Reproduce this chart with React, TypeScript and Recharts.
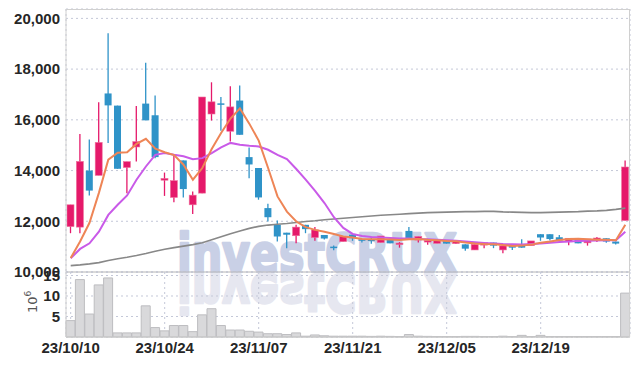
import React from 'react';
import { ComposedChart, Bar, Line, XAxis, YAxis, CartesianGrid, ReferenceLine } from 'recharts';

const dates = [
  '23/10/10', '23/10/11', '23/10/12', '23/10/13', '23/10/16', '23/10/17', '23/10/18', '23/10/19', '23/10/20', '23/10/23',
  '23/10/24', '23/10/25', '23/10/26', '23/10/27', '23/10/30', '23/10/31', '23/11/01', '23/11/02', '23/11/03', '23/11/06',
  '23/11/07', '23/11/08', '23/11/09', '23/11/10', '23/11/13', '23/11/14', '23/11/15', '23/11/16', '23/11/17', '23/11/20',
  '23/11/21', '23/11/22', '23/11/23', '23/11/24', '23/11/27', '23/11/28', '23/11/29', '23/11/30', '23/12/01', '23/12/04',
  '23/12/05', '23/12/06', '23/12/07', '23/12/08', '23/12/11', '23/12/12', '23/12/13', '23/12/14', '23/12/15', '23/12/18',
  '23/12/19', '23/12/20', '23/12/21', '23/12/22', '23/12/26', '23/12/27', '23/12/28', '24/01/02', '24/01/03', '24/01/04',
];

const tickDates = ['23/10/10', '23/10/24', '23/11/07', '23/11/21', '23/12/05', '23/12/19'];
const priceTicks = [10000, 12000, 14000, 16000, 18000, 20000];
const volumeTicks = [5, 10, 15];

const opens = [
  11790, 11770, 14000, 13810, 17040, 16560, 14120, 14930, 16640, 16180,
  13620, 12940, 14400, 12650, 13110, 16230, 16650, 15550, 16760, 14530,
  14100, 12520, 11860, 11550, 11430, 11860, 11360, 11460, 11000, 11200,
  11470, 11290, 11280, 11160, 11290, 11120, 11620, 11260, 11190, 11130,
  11225, 11120, 11090, 10870, 11060, 11160, 10870, 11040, 11040, 11040,
  11490, 11490, 11370, 11190, 11330, 11150, 11250, 11330, 11200, 12030,
];
const highs = [
  12650, 15440, 15220, 16690, 19410, 16560, 14350, 16550, 18250, 16960,
  13920, 14590, 14400, 13170, 16900, 17480, 16900, 17320, 17350, 14910,
  14100, 12690, 12030, 11550, 11860, 11860, 11770, 11460, 11040, 11400,
  11500, 11290, 11370, 11420, 11290, 11180, 11770, 11400, 11240, 11240,
  11225, 11225, 11090, 11090, 11160, 11160, 11030, 11040, 11290, 11225,
  11490, 11490, 11460, 11330, 11330, 11300, 11380, 11330, 11200, 14400,
];
const lows = [
  11530, 11530, 13020, 13810, 15090, 14070, 13110, 14360, 15980, 14490,
  13000, 12750, 12940, 12290, 13110, 15970, 15570, 15150, 15410, 13700,
  12850, 11990, 11200, 10940, 11130, 11530, 11230, 11280, 10860, 11200,
  11230, 11160, 11110, 11160, 11130, 10960, 11290, 11160, 11070, 11130,
  11120, 11100, 10840, 10870, 10940, 10940, 10740, 10870, 10960, 11040,
  11230, 11240, 11240, 11055, 11130, 11040, 11180, 11150, 11080, 12030,
];
const closes = [
  12650, 14360, 13210, 15110, 16570, 14070, 14350, 15140, 15980, 14530,
  13690, 13600, 13270, 13030, 16900, 16710, 16610, 16510, 15410, 14240,
  12940, 12160, 11400, 11470, 11770, 11690, 11660, 11320, 10970, 11400,
  11330, 11240, 11230, 11420, 11130, 11140, 11290, 11400, 11240, 11240,
  11120, 11225, 10920, 11090, 11160, 11040, 11030, 10960, 10960, 11225,
  11360, 11300, 11240, 11330, 11130, 11300, 11340, 11200, 11120, 14140,
];

const ma5 = [
  10550, 11200, 11940, 13120, 14430, 14700, 14720, 15050, 15250, 14860,
  14720, 14610, 14230, 13640, 14100, 14850, 15480, 16050, 16450, 15850,
  15180, 14100, 12980, 12380, 11990, 11770, 11660, 11590, 11500, 11400,
  11360, 11300, 11290, 11290, 11280, 11260, 11290, 11300, 11270, 11250,
  11220, 11210, 11160, 11120, 11100, 11090, 11060, 11030, 11040, 11080,
  11150, 11200, 11260, 11300, 11310, 11290, 11270, 11270, 11250, 11860,
];
const ma20 = [
  10540, 10910, 11130, 11590, 12250, 12650, 13020, 13640, 14160, 14620,
  14690, 14620, 14560, 14450, 14490, 14690, 14910, 15090, 15020, 14980,
  14950, 14820, 14620, 14450, 14060, 13640, 13200, 12720, 12160, 11740,
  11500, 11420, 11380, 11360, 11340, 11320, 11320, 11300, 11290, 11270,
  11250, 11230, 11200, 11170, 11140, 11120, 11100, 11090, 11080, 11100,
  11120, 11150, 11180, 11200, 11220, 11230, 11240, 11250, 11250, 11590,
];
const ma60 = [
  10250, 10280, 10320, 10370, 10450, 10520, 10580, 10650, 10730, 10820,
  10900, 10960, 11020, 11080, 11150, 11270, 11390, 11510, 11620, 11720,
  11800, 11850, 11880, 11910, 11950, 11990, 12020, 12060, 12090, 12120,
  12150, 12180, 12210, 12240, 12260, 12280, 12300, 12320, 12340, 12350,
  12360, 12370, 12380, 12380, 12390, 12390, 12370, 12360, 12350, 12340,
  12340, 12350, 12360, 12370, 12380, 12400, 12410, 12430, 12470, 12520,
];

// volume in millions of shares
const volumes = [
  4.0, 14.0, 5.6, 12.7, 14.4, 1.0, 1.0, 1.0, 7.6, 2.3,
  1.5, 2.8, 2.8, 1.3, 5.4, 6.9, 2.8, 1.7, 1.7, 1.4,
  1.2, 0.8, 0.8, 0.6, 1.0, 0.2, 0.5, 0.3, 0.2, 0.2,
  0.2, 0.2, 0.15, 0.2, 0.15, 0.1, 0.6, 0.2, 0.15, 0.1,
  0.1, 0.1, 0.15, 0.15, 0.1, 0.1, 0.2, 0.1, 0.4, 0.1,
  0.4, 0.1, 0.1, 0.1, 0.1, 0.1, 0.1, 0.1, 0.1, 10.7,
];

const priceData = dates.map((date, i) => ({
  date,
  open: opens[i],
  high: highs[i],
  low: lows[i],
  close: closes[i],
  ma5: ma5[i],
  ma20: ma20[i],
  ma60: ma60[i],
}));
const volumeData = dates.map((date, i) => ({ date, volume: volumes[i] }));

const UP = '#e5196a';
const DOWN = '#2f93c8';
const GRID = '#c4c8d8';
const FONT = '"Liberation Sans Narrow", "Liberation Sans", sans-serif';
const tickStyle = { fill: '#262626', fontSize: 15, fontWeight: 700, fontFamily: FONT };

const W = 639;
const PLOT_LEFT = 66;
const PLOT_RIGHT = 630;

const Candle = (props: any) => {
  const { x, y, width, height, payload } = props;
  const { open, close, high, low } = payload;
  const up = close >= open;
  const color = up ? UP : DOWN;
  const top = Math.min(y, y + height);
  const h = Math.abs(height);
  const ratio = h / Math.max(1, high - low);
  const bodyTop = top + (high - Math.max(open, close)) * ratio;
  const bodyH = Math.max(1.5, Math.abs(open - close) * ratio);
  const cx = x + width / 2;
  return (
    <g>
      <line x1={cx} x2={cx} y1={top} y2={top + h} stroke={color} strokeWidth={1.3} />
      <rect x={x} y={bodyTop} width={width} height={bodyH} fill={color}
        stroke={up ? '#ef6f9c' : 'none'} strokeWidth={up ? 0.6 : 0} />
    </g>
  );
};

const wmStyle = {
  fontFamily: '"DejaVu Sans", sans-serif',
  fontWeight: 700,
  fontSize: 53,
  strokeWidth: 2.5,
  strokeLinejoin: 'round' as const,
};

export default function App() {
  return (
    <div style={{ position: 'absolute', left: 0, top: 0, width: W, height: 366, background: '#fff' }}>
      {/* watermark behind the charts */}
      <svg width={W} height={366} style={{ position: 'absolute', left: 0, top: 0 }}>
        <text x={177} y={272} textLength={280} lengthAdjust="spacingAndGlyphs"
          style={wmStyle} fill="#c9d0e6" stroke="#c9d0e6">
          investCRUX
        </text>
        <text x={177} y={272} textLength={280} lengthAdjust="spacingAndGlyphs"
          transform="translate(0,546) scale(1,-1)"
          style={wmStyle} fill="#e6e7f0" stroke="#e6e7f0">
          investCRUX
        </text>
      </svg>

      <div style={{ position: 'absolute', left: 0, top: 0 }}>
        <ComposedChart width={W} height={290} data={priceData}
          margin={{ top: 9, right: W - PLOT_RIGHT, bottom: 18, left: 0 }}>
          <CartesianGrid stroke={GRID} strokeDasharray="2 3" />
          <XAxis dataKey="date" orientation="top" height={0} ticks={tickDates}
            tick={false} tickLine={false} axisLine={false} interval={0} />
          <YAxis width={PLOT_LEFT} domain={[10000, 20370]} ticks={priceTicks} interval={0}
            allowDataOverflow tickFormatter={(v: number) => v.toLocaleString('en-US')}
            tick={tickStyle} tickSize={0} tickMargin={6} axisLine={{ stroke: '#d0d0d0' }} tickLine={false} />
          <Bar dataKey={(d: any) => [d.low, d.high]} barSize={7} shape={Candle} isAnimationActive={false} />
          <Line type="linear" dataKey="ma60" stroke="#888888" strokeWidth={1.6} dot={false} isAnimationActive={false} />
          <Line type="linear" dataKey="ma20" stroke="#c95ae8" strokeWidth={2} dot={false} isAnimationActive={false} />
          <Line type="linear" dataKey="ma5" stroke="#ee8556" strokeWidth={2} dot={false} isAnimationActive={false} />
          <ReferenceLine y={10000} stroke="#b4b4b4" strokeWidth={1} />
        </ComposedChart>
      </div>

      <div style={{ position: 'absolute', left: 0, top: 262 }}>
        <ComposedChart width={W} height={104} data={volumeData} barCategoryGap={0}
          margin={{ top: 10, right: W - PLOT_RIGHT, bottom: 0, left: 0 }}>
          <CartesianGrid stroke={GRID} strokeDasharray="2 3" />
          <XAxis dataKey="date" height={29} ticks={tickDates} interval={0}
            tick={tickStyle} tickSize={0} tickMargin={5} tickLine={false} axisLine={{ stroke: '#c8c8c8' }} />
          <YAxis width={PLOT_LEFT} domain={[0, 15.85]} ticks={volumeTicks} interval={0}
            tick={tickStyle} tickSize={0} tickMargin={6} axisLine={{ stroke: '#d0d0d0' }} tickLine={false} />
          <Bar dataKey="volume" fill="#d9d9db" stroke="#bdbdc0" strokeWidth={1} isAnimationActive={false} />
        </ComposedChart>
      </div>

      {/* frame and volume unit label */}
      <svg width={W} height={366} style={{ position: 'absolute', left: 0, top: 0, pointerEvents: 'none' }}>
        <line x1={PLOT_LEFT} x2={PLOT_RIGHT} y1={9.5} y2={9.5} stroke="#d0d0d0" />
        <line x1={PLOT_RIGHT - 0.5} x2={PLOT_RIGHT - 0.5} y1={9} y2={337} stroke="#d0d0d0" />
        <text transform="translate(37,313) rotate(-90)" fontFamily='"DejaVu Sans", sans-serif' fontSize={13} fill="#555">
          10<tspan fontSize={9} dy={-6}>6</tspan>
        </text>
      </svg>
    </div>
  );
}
